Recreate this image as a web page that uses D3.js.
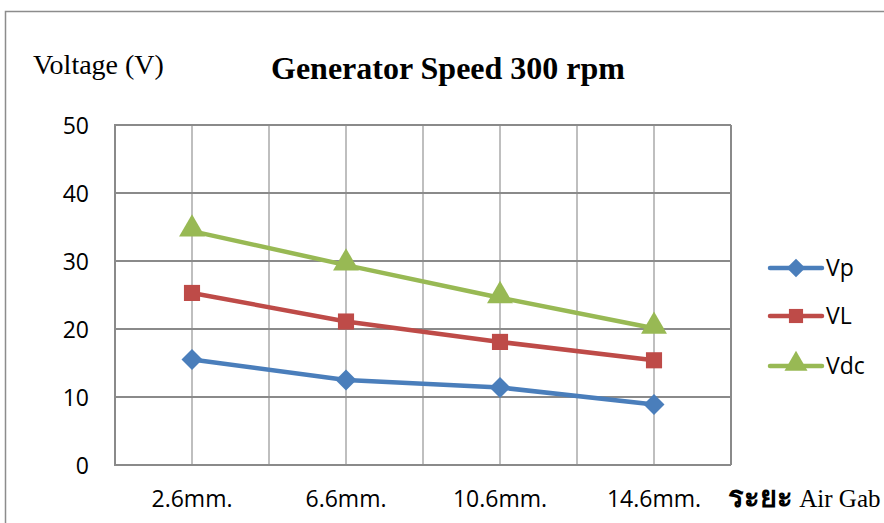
<!DOCTYPE html>
<html><head><meta charset="utf-8">
<script src="https://cdn.jsdelivr.net/npm/d3@7"></script>
<style>body{margin:0;background:#fff}svg{display:block}</style>
</head><body>
<svg id="c" width="884" height="523"></svg>
<script>
const categories = ["2.6mm.", "6.6mm.", "10.6mm.", "14.6mm."];
const seriesNames = ["Vp", "VL", "Vdc"];
const vp = [15.5, 12.5, 11.4, 8.9];
const vl = [25.3, 21.1, 18.1, 15.4];
const vdc = [34.4, 29.4, 24.6, 20.1];
const yTicks = [0, 10, 20, 30, 40, 50];
const colors = ["#4a7ebb", "#be4b48", "#98b954"];
const shapes = [d3.symbolDiamond2, d3.symbolSquare, d3.symbolTriangle];
const series = [vp, vl, vdc];

const svg = d3.select("#c");
const L = 115, R = 731, T = 125, B = 465;
const sans = "'Open Sans', sans-serif";
const serif = "'Liberation Serif', 'Times New Roman', serif";

// outer border
svg.append("rect").attr("x", 5.5).attr("y", 11.5).attr("width", 900).attr("height", 600)
  .attr("fill", "none").attr("stroke", "#8c8c8c").attr("stroke-width", 1.5);

const x = d3.scaleBand().domain(categories).range([L, R]);
const y = d3.scaleLinear().domain([0, 50]).range([B, T]);

// vertical gridlines (band edges and centers)
const vx = [];
categories.forEach(c => { vx.push(x(c)); vx.push(x(c) + x.bandwidth() / 2); });
vx.push(R);
svg.append("g").selectAll("line").data(vx.slice(1)).join("line")
  .attr("x1", d => d).attr("x2", d => d).attr("y1", T).attr("y2", B)
  .attr("stroke", "#bfbfbf").attr("stroke-width", 2);

// horizontal gridlines
svg.append("g").selectAll("line").data(yTicks).join("line")
  .attr("x1", L).attr("x2", R).attr("y1", d => y(d)).attr("y2", d => y(d))
  .attr("stroke", "#8a8a8a").attr("stroke-width", 2);
svg.append("line").attr("x1", R).attr("x2", R).attr("y1", T).attr("y2", B)
  .attr("stroke", "#8a8a8a").attr("stroke-width", 2);
svg.append("line").attr("x1", L).attr("x2", L).attr("y1", T - 1).attr("y2", B + 1)
  .attr("stroke", "#8a8a8a").attr("stroke-width", 2);

// y tick labels
const yAxis = d3.axisLeft(y).tickValues(yTicks).tickSize(0).tickPadding(0);
const gy = svg.append("g").attr("transform", `translate(89,0)`).call(yAxis);
gy.select(".domain").remove();
gy.selectAll("text").attr("font-family", sans).attr("font-size", 23)
  .attr("fill", "#000").attr("dy", "0.36em");

// x labels
const xAxis = d3.axisBottom(x).tickSize(0).tickPadding(0);
const gx = svg.append("g").attr("transform", `translate(0,507)`).call(xAxis);
gx.select(".domain").remove();
gx.selectAll("text").attr("font-family", sans).attr("font-size", 23)
  .attr("fill", "#000").attr("dy", "0");

// lines and markers
const line = d3.line().x((d, i) => x(categories[i]) + x.bandwidth() / 2).y(d => y(d));
series.forEach((s, k) => {
  svg.append("path").datum(s).attr("d", line).attr("fill", "none")
    .attr("stroke", colors[k]).attr("stroke-width", 4.5).attr("stroke-linejoin", "round");
  const sz = [280, 260, 290][k];
  svg.append("g").selectAll("path").data(s).join("path")
    .attr("transform", (d, i) => `translate(${x(categories[i]) + x.bandwidth() / 2},${y(d) + (k === 2 ? -2 : 0)})`)
    .attr("d", d3.symbol().type(shapes[k]).size(sz))
    .attr("fill", colors[k]);
});

// legend
const ly = [268, 316, 366];
seriesNames.forEach((n, k) => {
  const g = svg.append("g").attr("transform", `translate(0,${ly[k]})`);
  g.append("line").attr("x1", 770).attr("x2", 822).attr("y1", 0).attr("y2", 0)
    .attr("stroke", colors[k]).attr("stroke-width", 4.5).attr("stroke-linecap", "round");
  g.append("path").attr("transform", `translate(796,${k === 2 ? -2 : 0})`)
    .attr("d", d3.symbol().type(shapes[k]).size([220, 200, 230][k])).attr("fill", colors[k]);
  g.append("text").attr("x", 826).attr("y", 0).attr("dy", "0.36em")
    .attr("font-family", sans).attr("font-size", 23).text(n);
});

// titles
svg.append("text").attr("x", 448).attr("y", 79).attr("text-anchor", "middle")
  .attr("font-family", serif).attr("font-weight", "bold")
  .attr("font-size", 32).text("Generator Speed 300 rpm");
svg.append("text").attr("x", 33).attr("y", 74)
  .attr("font-family", serif).attr("font-size", 28).text("Voltage (V)");
svg.append("text").attr("x", 728).attr("y", 507)
  .attr("font-family", serif).attr("font-size", 25)
  .html('<tspan font-weight="bold" font-size="29">ระยะ</tspan> Air Gab');
</script>
</body></html>
